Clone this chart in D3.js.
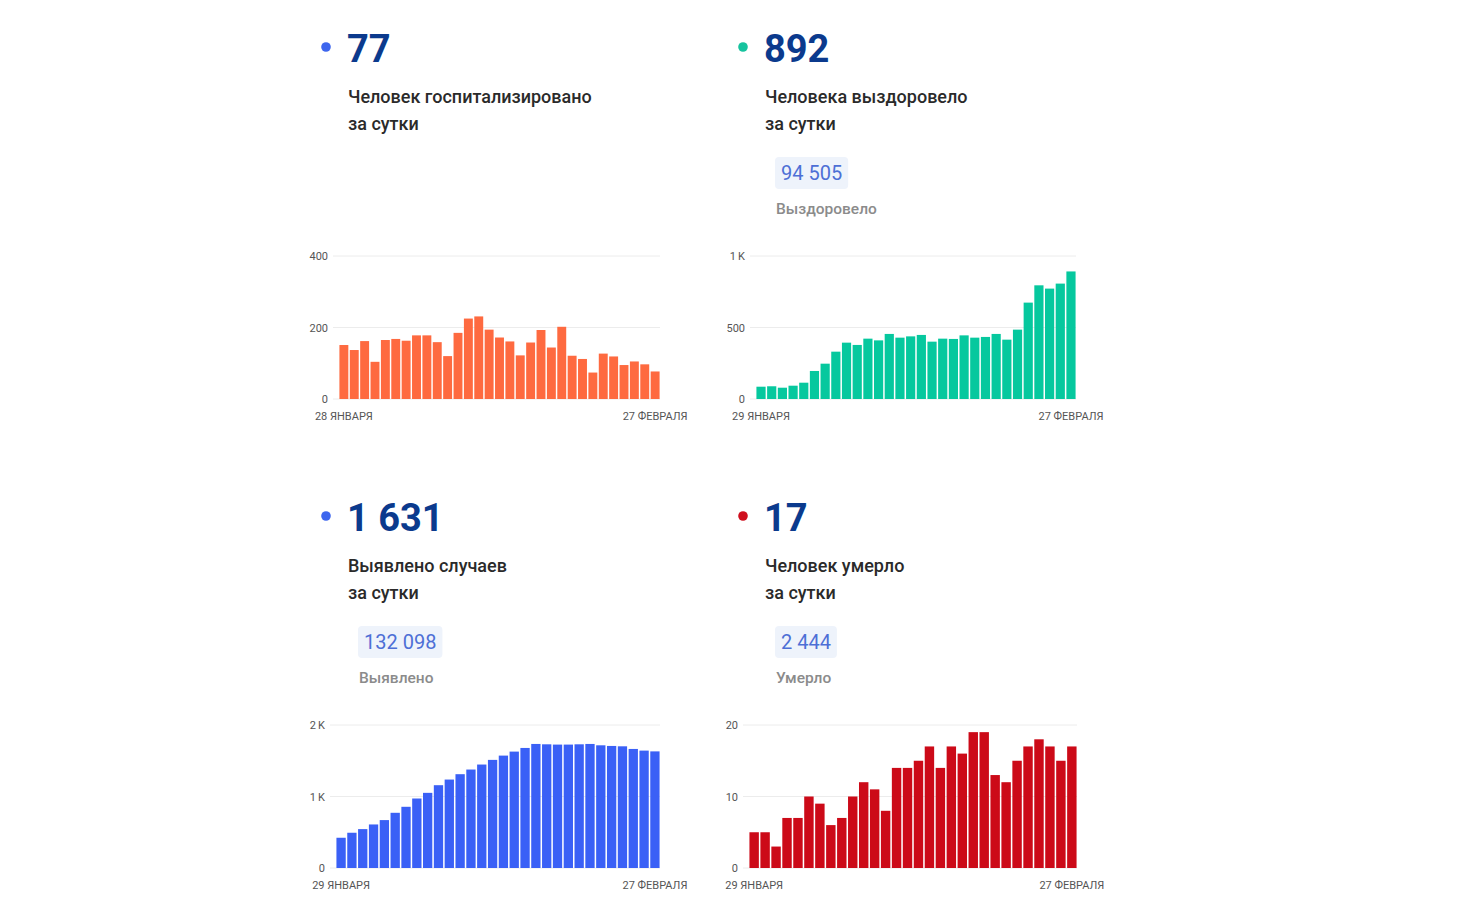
<!DOCTYPE html>
<html>
<head>
<meta charset="utf-8">
<script src="https://cdn.jsdelivr.net/npm/d3@7"></script>
<style>
  body { margin: 0; background: #fff; }
  svg { display: block; font-family: Roboto, "Noto Sans", sans-serif; }
</style>
</head>
<body>
<script>
// ---- data ----
var hospitalized = [151, 137, 162, 104, 165, 168, 163, 178, 178, 159, 120, 185, 225, 231, 194,
  172, 161, 122, 158, 193, 144, 202, 121, 112, 74, 127, 119, 95, 105, 97, 77];
var recovered = [86, 89, 79, 93, 114, 196, 247, 331, 394, 378, 422, 410, 455, 429, 438,
  448, 401, 422, 420, 445, 429, 434, 455, 415, 485, 674, 795, 772, 807, 892];
var cases = [423, 493, 544, 609, 670, 772, 856, 972, 1051, 1158, 1237, 1312, 1377, 1447, 1512,
  1572, 1628, 1679, 1735, 1730, 1726, 1726, 1730, 1735, 1716, 1707, 1702, 1665, 1642, 1631];
var deaths = [5, 5, 3, 7, 7, 10, 9, 6, 7, 10, 12, 11, 8, 14, 14,
  15, 17, 14, 17, 16, 19, 19, 13, 12, 15, 17, 18, 17, 15, 17];

var monthsGen = ["ЯНВАРЯ", "ФЕВРАЛЯ", "МАРТА"];
var hospTicks = [0, 200, 400];
var recTicks = [0, 500, 1000];
var casesTicks = [0, 1000, 2000];
var deathTicks = [0, 10, 20];

var cards = [
  {x: 348, y: 0, dot: "#3d66ee", big: "77", lines: ["Человек госпитализировано", "за сутки"],
   pill: null, pillLabel: null,
   values: hospitalized, start: new Date(2021, 0, 28), ticks: hospTicks, max: 400,
   color: "#fe6a40", left: 339, right: 660},
  {x: 765, y: 0, dot: "#16c39e", big: "892", lines: ["Человека выздоровело", "за сутки"],
   pill: "94 505", pillLabel: "Выздоровело",
   values: recovered, start: new Date(2021, 0, 29), ticks: recTicks, max: 1000,
   color: "#06c89e", left: 756, right: 1076},
  {x: 348, y: 469, dot: "#3d66ee", big: "1 631", lines: ["Выявлено случаев", "за сутки"],
   pill: "132 098", pillLabel: "Выявлено",
   values: cases, start: new Date(2021, 0, 29), ticks: casesTicks, max: 2000,
   color: "#3a60f6", left: 336, right: 660},
  {x: 765, y: 469, dot: "#cf0f1e", big: "17", lines: ["Человек умерло", "за сутки"],
   pill: "2 444", pillLabel: "Умерло",
   values: deaths, start: new Date(2021, 0, 29), ticks: deathTicks, max: 20,
   color: "#cc0a18", left: 749, right: 1077}
];

var W = 1484, H = 905;
var svg = d3.select("body").append("svg").attr("width", W).attr("height", H);
svg.append("rect").attr("width", W).attr("height", H).attr("fill", "#fff");

function tickFmt(v) {
  if (v >= 1000) return (v / 1000) + "\u2009K";
  return String(v);
}

function dateLabel(d) {
  return d.getDate() + " " + monthsGen[d.getMonth()];
}

cards.forEach(function(c) {
  var g = svg.append("g").attr("transform", "translate(0," + c.y + ")");

  // header
  g.append("circle").attr("cx", c.x - 22).attr("cy", 47).attr("r", 4.8).attr("fill", c.dot);
  g.append("text").attr("x", c.x - 1).attr("y", 62)
    .attr("font-size", 38).attr("font-weight", 700).attr("fill", "#0b3a8d")
    .text(c.big);
  c.lines.forEach(function(l, i) {
    g.append("text").attr("x", c.x).attr("y", 103 + i * 27)
      .attr("font-size", 18).attr("font-weight", 500).attr("fill", "#2a2a2a")
      .text(l);
  });

  if (c.pill) {
    var pg = g.append("g");
    var pr = pg.append("rect").attr("x", c.x + 10).attr("y", 157).attr("height", 32)
      .attr("rx", 4).attr("fill", "#eef3fb");
    var pt = pg.append("text").attr("x", c.x + 16).attr("y", 180)
      .attr("font-size", 20).attr("fill", "#4d6fd6").text(c.pill);
    pr.attr("width", pt.node().getComputedTextLength() + 12);
    g.append("text").attr("x", c.x + 11).attr("y", 214)
      .attr("font-size", 15.5).attr("font-weight", 500).attr("fill", "#8b8b8b")
      .text(c.pillLabel);
  }

  // chart
  var days = d3.timeDay.range(c.start, d3.timeDay.offset(c.start, c.values.length));
  var x = d3.scaleBand().domain(days).range([c.left, c.right]).paddingInner(0.14).paddingOuter(0.04);
  var y = d3.scaleLinear().domain([0, c.max]).range([399, 256]);

  var grid = g.append("g");
  grid.selectAll("line").data(c.ticks).join("line")
    .attr("x1", c.left - 6).attr("x2", c.right)
    .attr("y1", function(d) { return y(d); }).attr("y2", function(d) { return y(d); })
    .attr("stroke", "#ececec").attr("stroke-width", 1);

  var yAxis = d3.axisLeft(y).tickValues(c.ticks).tickFormat(tickFmt).tickSize(0).tickPadding(0);
  var ya = g.append("g").attr("transform", "translate(" + (c.left - 11) + ",0)").call(yAxis);
  ya.select(".domain").remove();
  ya.selectAll("text").attr("font-size", 11).attr("fill", "#555").attr("font-family", "Roboto, sans-serif");

  g.append("g").selectAll("rect").data(c.values).join("rect")
    .attr("x", function(d, i) { return x(days[i]); })
    .attr("width", x.bandwidth())
    .attr("y", function(d) { return y(d); })
    .attr("height", function(d) { return y(0) - y(d); })
    .attr("fill", c.color);

  var ends = [days[0], days[days.length - 1]];
  var xAxis = d3.axisBottom(x).tickValues(ends).tickFormat(dateLabel).tickSize(0).tickPadding(0);
  var xa = g.append("g").attr("transform", "translate(0,412)").call(xAxis);
  xa.select(".domain").remove();
  xa.selectAll("text").attr("font-size", 11).attr("fill", "#555").attr("font-family", "Roboto, sans-serif");
});
</script>
</body>
</html>
